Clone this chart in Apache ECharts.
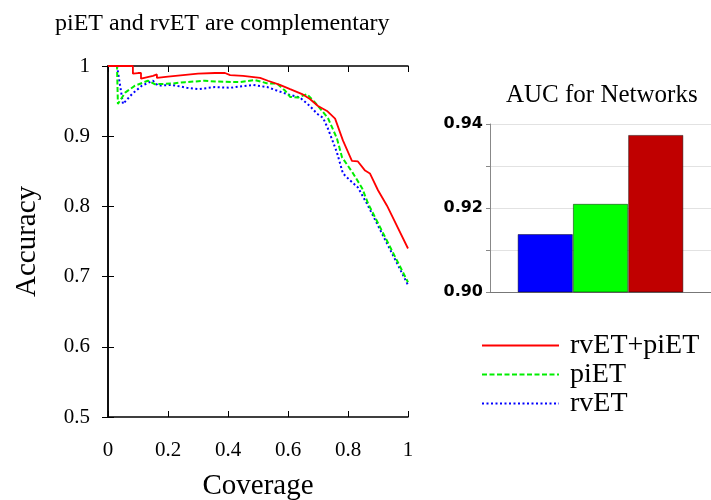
<!DOCTYPE html>
<html>
<head>
<meta charset="utf-8">
<script src="https://cdn.jsdelivr.net/npm/echarts@6/dist/echarts.min.js"></script>
<style>
  html, body { margin: 0; padding: 0; background: #fff; }
  #chart { width: 711px; height: 500px; }
</style>
</head>
<body>
<div id="chart"></div>
<script>
// coverage / accuracy curves
const combinedCov = [0, 0.083, 0.083, 0.10, 0.11, 0.11, 0.15, 0.15, 0.163, 0.163, 0.2, 0.25, 0.3, 0.357, 0.39, 0.407, 0.45, 0.507, 0.533, 0.573, 0.607, 0.647, 0.673, 0.7, 0.73, 0.757, 0.783, 0.813, 0.833, 0.857, 0.873, 0.9, 0.93, 1.0];
const combinedAcc = [1, 1, 0.989, 0.99, 0.99, 0.982, 0.986, 0.988, 0.988, 0.983, 0.985, 0.987, 0.989, 0.990, 0.990, 0.987, 0.986, 0.983, 0.979, 0.973, 0.967, 0.960, 0.953, 0.943, 0.936, 0.925, 0.894, 0.865, 0.864, 0.851, 0.847, 0.823, 0.801, 0.740];

const pietCov = [0, 0.03, 0.033, 0.057, 0.09, 0.133, 0.157, 0.213, 0.257, 0.323, 0.357, 0.44, 0.49, 0.533, 0.563, 0.59, 0.607, 0.633, 0.663, 0.69, 0.7, 0.733, 0.763, 0.78, 0.817, 0.847, 0.867, 1.0];
const pietAcc = [1, 1, 0.946, 0.962, 0.972, 0.979, 0.974, 0.975, 0.977, 0.979, 0.978, 0.977, 0.980, 0.975, 0.975, 0.965, 0.956, 0.955, 0.960, 0.948, 0.943, 0.926, 0.897, 0.870, 0.847, 0.826, 0.804, 0.692];

const rvetCov = [0, 0.03, 0.05, 0.08, 0.113, 0.15, 0.167, 0.213, 0.263, 0.3, 0.357, 0.407, 0.483, 0.53, 0.563, 0.597, 0.64, 0.673, 0.697, 0.717, 0.733, 0.763, 0.783, 0.807, 0.833, 0.863, 1.0];
const rvetAcc = [1, 1, 0.946, 0.960, 0.972, 0.979, 0.972, 0.973, 0.969, 0.967, 0.970, 0.969, 0.973, 0.970, 0.965, 0.960, 0.955, 0.943, 0.932, 0.926, 0.911, 0.877, 0.847, 0.837, 0.827, 0.804, 0.688];

const lineNames = ['rvET+piET', 'piET', 'rvET'];
const aucNames = ['rvET', 'piET', 'rvET+piET'];
const aucValues = [0.9138, 0.921, 0.9374];
const aucColors = ['#0000ff', '#00ff00', '#c00000'];

const serif = '"Liberation Serif", "Times New Roman", serif';

function zip(xs, ys) {
  return xs.map((x, i) => [x, ys[i]]);
}

const chart = echarts.init(document.getElementById('chart'));

const lineSeries = [
  { name: 'rvET', data: zip(rvetCov, rvetAcc), color: '#0000ff', type: [2, 2.5], width: 2 },
  { name: 'piET', data: zip(pietCov, pietAcc), color: '#00ee00', type: [5, 2.5], width: 2 },
  { name: 'rvET+piET', data: zip(combinedCov, combinedAcc), color: '#ff0000', type: 'solid', width: 1.8 },
].map(s => ({
  name: s.name,
  type: 'line',
  xAxisIndex: 0,
  yAxisIndex: 0,
  data: s.data,
  showSymbol: false,
  symbol: 'none',
  animation: false,
  color: s.color,
  lineStyle: { color: s.color, width: s.width, type: s.type },
}));

const barSeries = aucValues.map((v, i) => ({
  name: 'AUC ' + aucNames[i],
  type: 'bar',
  xAxisIndex: 2,
  yAxisIndex: 2,
  data: [v],
  barGap: '0%',
  barCategoryGap: '25%',
  animation: false,
  itemStyle: { color: aucColors[i], borderColor: 'rgba(0,0,0,0.45)', borderWidth: 1 },
}));

const option = {
  backgroundColor: '#fff',
  title: [
    {
      text: 'piET and rvET are complementary',
      left: 50,
      top: 7,
      textStyle: { fontFamily: serif, fontSize: 24, fontWeight: 'normal', color: '#000' },
    },
    {
      text: 'AUC for Networks',
      left: 501,
      top: 78,
      textStyle: { fontFamily: serif, fontSize: 25, fontWeight: 'normal', color: '#000' },
    },
  ],
  legend: {
    data: lineNames,
    orient: 'vertical',
    left: 476,
    top: 326,
    itemWidth: 77,
    itemHeight: 14,
    itemGap: 0,
    selectedMode: false,
    itemStyle: { opacity: 0 },
    textStyle: { fontFamily: serif, fontSize: 28, color: '#000', lineHeight: 29, padding: [0, 0, 0, 6] },
  },
  grid: [
    { left: 108, top: 66, width: 300, height: 351, outerBoundsMode: 'none', containLabel: false },
    { left: 490, top: 124, width: 221, height: 168, outerBoundsMode: 'none', containLabel: false },
  ],
  xAxis: [
    {
      type: 'value', gridIndex: 0, min: 0, max: 1, interval: 0.2,
      name: 'Coverage', nameLocation: 'middle', nameGap: 55,
      nameTextStyle: { fontFamily: serif, fontSize: 29, color: '#000' },
      axisLine: { lineStyle: { color: '#000', width: 1.5 } },
      axisTick: { inside: true, length: 6, lineStyle: { color: '#000', width: 1 } },
      axisLabel: { fontFamily: serif, fontSize: 21, color: '#000', margin: 23 },
      splitLine: { show: false },
    },
    {
      type: 'value', gridIndex: 0, min: 0, max: 1, interval: 0.2, position: 'top',
      axisLine: { lineStyle: { color: '#000', width: 1.5 } },
      axisTick: { inside: true, length: 6, lineStyle: { color: '#000', width: 1 } },
      axisLabel: { show: false },
      splitLine: { show: false },
    },
    {
      type: 'category', gridIndex: 1, data: ['AUC'],
      axisLine: { lineStyle: { color: '#777', width: 1 } },
      axisTick: { show: false },
      axisLabel: { show: false },
    },
  ],
  yAxis: [
    {
      type: 'value', gridIndex: 0, min: 0.5, max: 1, interval: 0.1,
      name: 'Accuracy', nameLocation: 'middle', nameGap: 66,
      nameTextStyle: { fontFamily: serif, fontSize: 29, color: '#000' },
      axisLine: { show: true, lineStyle: { color: '#000', width: 1.5 } },
      axisTick: { show: true, inside: true, length: 6, lineStyle: { color: '#000', width: 1 } },
      axisLabel: { fontFamily: serif, fontSize: 21, color: '#000', margin: 18, formatter: v => String(+v.toFixed(1)) },
      splitLine: { show: false },
    },
    {
      type: 'value', gridIndex: 0, min: 0.5, max: 1, interval: 0.1, position: 'right',
      axisLine: { show: true, lineStyle: { color: '#000', width: 1.5 } },
      axisTick: { show: true, inside: true, length: 6, lineStyle: { color: '#000', width: 1 } },
      axisLabel: { show: false },
      splitLine: { show: false },
    },
    {
      type: 'value', gridIndex: 1, min: 0.9, max: 0.94, interval: 0.01,
      axisLine: { show: true, lineStyle: { color: '#888', width: 1 } },
      axisTick: { show: true, length: 4, lineStyle: { color: '#888' } },
      axisLabel: {
        fontFamily: '"DejaVu Sans", sans-serif', fontSize: 16, fontWeight: 'bold', color: '#000', margin: 7,
        formatter: v => (Math.round(v * 100) % 2 === 0 ? v.toFixed(2) : ''),
      },
      splitLine: { show: true, lineStyle: { color: '#e2e2e2', width: 1 } },
    },
  ],
  series: [...lineSeries, ...barSeries],
};

chart.setOption(option);
window.addEventListener('resize', () => chart.resize());
</script>
</body>
</html>
